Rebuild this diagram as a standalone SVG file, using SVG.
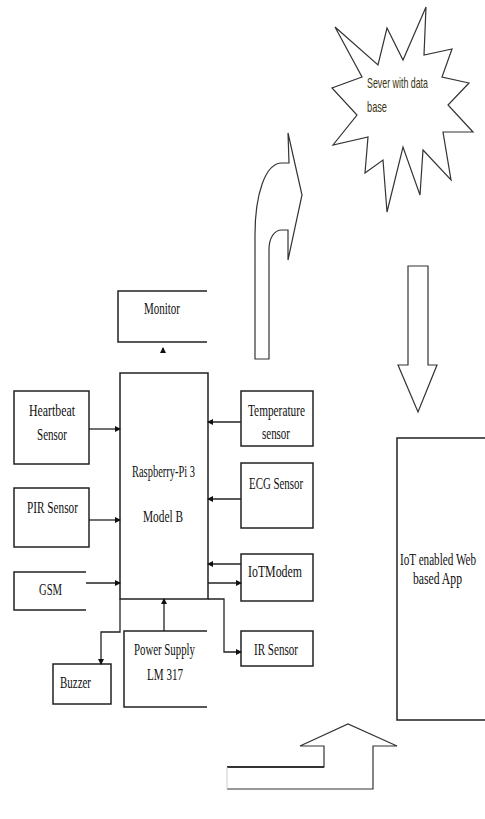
<svg xmlns="http://www.w3.org/2000/svg" width="485" height="819" viewBox="0 0 485 819">
<defs>
<marker id="ah" markerWidth="6" markerHeight="6" refX="5" refY="3" orient="auto" markerUnits="userSpaceOnUse">
<path d="M0,0 L6,3 L0,6 Z" fill="#111"/>
</marker>
<style>
.box{fill:#fff;stroke:#222;stroke-width:1.5}
.open{fill:none;stroke:#222;stroke-width:1.5}
.ln{fill:none;stroke:#222;stroke-width:1.3}
.big{fill:#fff;stroke:#333;stroke-width:1.2}
.t{font-family:"Liberation Serif","Times New Roman",serif;font-size:16px;fill:#111}
.s{font-family:"Liberation Sans Narrow","Liberation Sans",Arial,sans-serif;font-size:15px;fill:#3a3410}
</style>
</defs>
<rect width="485" height="819" fill="#fff"/>

<g id="server">
<polygon class="big" points="335,27 378,65 387,28 403,60 426,7 424,55 452,49 442,77 469,83 448,105 473,132 443,132 451,180 423,150 420,195 403,147 387,212 383,160 365,173 368,137 333,145 357,115 332,88 362,77"/>
<text class="s" x="367" y="88" textLength="61" lengthAdjust="spacingAndGlyphs">Sever with data</text>
<text class="s" x="367" y="112" textLength="20" lengthAdjust="spacingAndGlyphs">base</text>
</g>

<g id="curved-up-arrow">
<path class="big" d="M255,359 L255,235 C255,195 265,163 282,163 L289,163 L288,133 L302,195 L288,260 L288,230 L282,230 C274,230 269,238 269,250 L269,359 Z"/>
</g>

<g id="down-arrow">
<polygon class="big" points="408,266 428,266 428,365 437,365 418,412 398,365 408,365"/>
</g>

<g id="monitor">
<path class="open" d="M207,291 L118,291 L118,342 L207,342"/>
<text class="t" x="144" y="314" textLength="36" lengthAdjust="spacingAndGlyphs">Monitor</text>
</g>

<g id="raspberry">
<path class="box" d="M120,373 L208,373 L208,599 L120,599 Z"/>
<text class="t" x="132" y="477" textLength="63" lengthAdjust="spacingAndGlyphs">Raspberry-Pi 3</text>
<text class="t" x="143" y="522" textLength="40" lengthAdjust="spacingAndGlyphs">Model B</text>
</g>

<g id="heartbeat">
<rect class="box" x="14" y="391" width="75" height="73"/>
<text class="t" x="29" y="416" textLength="46" lengthAdjust="spacingAndGlyphs">Heartbeat</text>
<text class="t" x="37" y="440" textLength="30" lengthAdjust="spacingAndGlyphs">Sensor</text>
</g>

<g id="pir">
<rect class="box" x="14" y="488" width="75" height="59"/>
<text class="t" x="27" y="513" textLength="51" lengthAdjust="spacingAndGlyphs">PIR Sensor</text>
</g>

<g id="gsm">
<path class="open" d="M86,572 L14,572 L14,610 L86,610"/>
<text class="t" x="39" y="595" textLength="23" lengthAdjust="spacingAndGlyphs">GSM</text>
</g>

<g id="temperature">
<rect class="box" x="241" y="391" width="72" height="55"/>
<text class="t" x="248" y="416" textLength="57" lengthAdjust="spacingAndGlyphs">Temperature</text>
<text class="t" x="262" y="439" textLength="28" lengthAdjust="spacingAndGlyphs">sensor</text>
</g>

<g id="ecg">
<rect class="box" x="241" y="463" width="72" height="65"/>
<text class="t" x="249" y="489" textLength="54" lengthAdjust="spacingAndGlyphs">ECG Sensor</text>
</g>

<g id="iotmodem">
<rect class="box" x="241" y="554" width="72" height="47"/>
<text class="t" x="248" y="577" textLength="54" lengthAdjust="spacingAndGlyphs">IoTModem</text>
</g>

<g id="ir">
<rect class="box" x="241" y="631" width="72" height="35"/>
<text class="t" x="254" y="655" textLength="44" lengthAdjust="spacingAndGlyphs">IR Sensor</text>
</g>

<g id="buzzer">
<rect class="box" x="53" y="664" width="58" height="40"/>
<text class="t" x="60" y="688" textLength="31" lengthAdjust="spacingAndGlyphs">Buzzer</text>
</g>

<g id="power">
<path class="open" d="M207,631 L124,631 L124,707 L207,707"/>
<text class="t" x="134" y="655" textLength="61" lengthAdjust="spacingAndGlyphs">Power Supply</text>
<text class="t" x="147" y="680" textLength="36" lengthAdjust="spacingAndGlyphs">LM 317</text>
</g>

<g id="webapp">
<path class="open" d="M485,438 L397,438 L397,720 L485,720"/>
<text class="t" transform="translate(400,565) scale(0.7,1)" x="0" y="0" textLength="108.6" lengthAdjust="spacingAndGlyphs">IoT enabled Web</text>
<text class="t" transform="translate(413,584) scale(0.7,1)" x="0" y="0" textLength="70" lengthAdjust="spacingAndGlyphs">based App</text>
</g>

<g id="up-arrow">
<path class="big" d="M227,767 L324,767 L324,746 L300,746 L348,724 L397,746 L373,746 L373,789 L227,789"/>
<path d="M227,767 L324,767" stroke="#333" stroke-width="1.8" fill="none"/>
<path d="M227,767 L227,789" stroke="#ccc" stroke-width="1" fill="none"/>
</g>

<g id="connectors">
<path class="ln" d="M163,352 L163,348" marker-end="url(#ah)"/>
<path class="ln" d="M89,429 L120,429" marker-end="url(#ah)"/>
<path class="ln" d="M89,520 L120,520" marker-end="url(#ah)"/>
<path class="ln" d="M86,583 L120,583" marker-end="url(#ah)"/>
<path class="ln" d="M241,422 L208,422" marker-end="url(#ah)"/>
<path class="ln" d="M241,499 L208,499" marker-end="url(#ah)"/>
<path class="ln" d="M241,564 L208,564" marker-end="url(#ah)"/>
<path class="ln" d="M208,583 L241,583" marker-end="url(#ah)"/>
<path class="ln" d="M164,631 L164,599" marker-end="url(#ah)"/>
<path class="ln" d="M208,599 L224,599 L224,652 L241,652" marker-end="url(#ah)"/>
<path class="ln" d="M120,599 L120,632 L101,632 L101,664" marker-end="url(#ah)"/>
</g>
</svg>
